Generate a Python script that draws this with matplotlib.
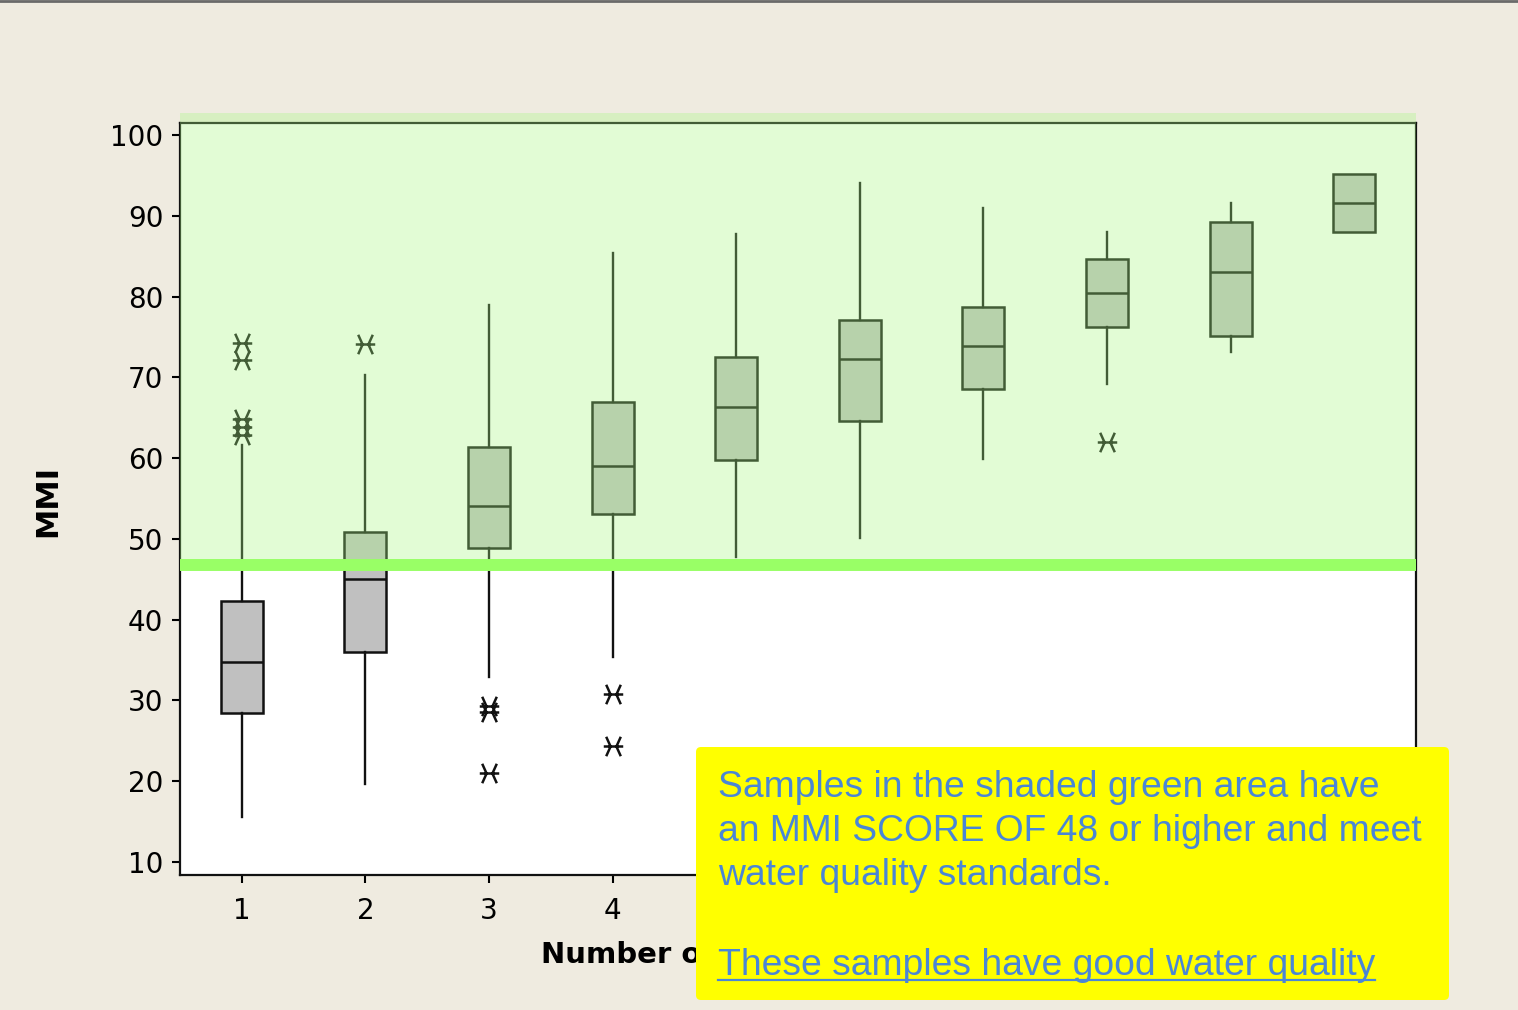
import numpy as np
import matplotlib
matplotlib.use('agg')
import matplotlib.pyplot as plt
from matplotlib.patches import Rectangle, FancyBboxPatch
from matplotlib.path import Path
from matplotlib.lines import Line2D
from matplotlib.transforms import IdentityTransform

# number of taxa groups
groups = [1, 2, 3, 4, 5, 6, 7, 8, 9, 10]
q1 = [28.5, 36.0, 48.9, 53.1, 59.7, 64.6, 68.6, 76.2, 75.1, 88.0]
med = [34.8, 45.0, 54.1, 59.0, 66.3, 72.3, 73.9, 80.4, 83.0, 91.6]
q3 = [42.3, 50.9, 61.4, 67.0, 72.5, 77.1, 78.7, 84.7, 89.2, 95.2]
whislo = [15.6, 19.6, 32.9, 35.4, 47.8, 50.1, 59.9, 69.2, 73.1, 88.0]
whishi = [61.6, 70.3, 79.0, 85.4, 87.7, 94.1, 91.0, 88.0, 91.6, 95.2]
outliers = [
    [74.2, 72.2, 64.8, 63.8, 62.9],
    [74.1],
    [29.3, 28.6, 21.0],
    [30.8, 24.3],
    [], [], [],
    [62.0],
    [], [],
]
threshold = 46.8
yticks = [10, 20, 30, 40, 50, 60, 70, 80, 90, 100]

bg = '#efebe0'
note_color = '#4a86d6'

fig = plt.figure(figsize=(15.18, 10.1), dpi=100, facecolor=bg)
ax = fig.add_axes([0.1186, 0.1337, 0.8142, 0.7446])
ax.set_facecolor('white')

stats = []
for i in range(len(groups)):
    stats.append(dict(med=med[i], q1=q1[i], q3=q3[i], whislo=whislo[i],
                      whishi=whishi[i], fliers=outliers[i]))

# minitab style star: )-( shape
star = Path([(-0.75, 1), (-0.3, 0), (-0.75, -1), (0.75, 1), (0.3, 0), (0.75, -1), (-1, 0), (1, 0)],
            [Path.MOVETO, Path.LINETO, Path.LINETO, Path.MOVETO, Path.LINETO, Path.LINETO,
             Path.MOVETO, Path.LINETO])

ax.bxp(stats, positions=groups, widths=0.34, patch_artist=True, showcaps=False,
       boxprops=dict(facecolor='#c0c0c0', edgecolor='#111111', linewidth=1.8),
       medianprops=dict(color='#111111', linewidth=1.8),
       whiskerprops=dict(color='#111111', linewidth=1.7),
       flierprops=dict(marker=star, markersize=14, markerfacecolor='none',
                       markeredgecolor='#111111', markeredgewidth=1.8))

ax.set_xlim(0.5, 10.5)
ax.set_ylim(8.39, 101.49)
ax.set_yticks(yticks)
ax.set_xticks(groups)
ax.tick_params(direction='out', length=6, width=1.5, labelsize=20, pad=6)
ax.tick_params(axis='x', pad=10)
for s in ax.spines.values():
    s.set_linewidth(1.6)
    s.set_color('#111111')

ax.set_ylabel('MMI', fontsize=22, fontweight='bold')
ax.yaxis.set_label_coords(-0.095, 0.497)
ax.set_xlabel('Number of Intolerant Taxa', fontsize=21, fontweight='bold', ha='left', va='center')
ax.xaxis.set_label_coords(0.292, -0.106)

# translucent green over the passing region
ax.add_patch(Rectangle((0.5, threshold), 10, 102.72 - threshold,
                       facecolor=(167/255, 248/255, 130/255), alpha=0.33,
                       edgecolor='none', zorder=10, clip_on=False))
ax.axhline(threshold, color='#99ff66', linewidth=8.6, zorder=11)

# top border of the slide
fig.add_artist(Line2D([0, 1], [0.999, 0.999], transform=fig.transFigure,
                      color='#6a6a6a', linewidth=2))

# yellow callout
H = 1010
box = FancyBboxPatch((696, H - 1000), 753, 253,
                     boxstyle='round,pad=0,rounding_size=5',
                     facecolor='#ffff00', edgecolor='none',
                     transform=IdentityTransform(), zorder=20)
fig.add_artist(box)

lines = ['Samples in the shaded green area have',
         'an MMI SCORE OF 48 or higher and meet',
         'water quality standards.']
base = [797, 841, 885]
for t, yb in zip(lines, base):
    fig.text(718 / 1518, 1 - yb / H, t, fontsize=26.8, color=note_color,
             family='Liberation Sans', va='baseline', ha='left', zorder=21)

good = fig.text(718 / 1518, 1 - 975 / H, 'These samples have good water quality',
                fontsize=26.8, color=note_color, family='Liberation Sans',
                va='baseline', ha='left', zorder=21)
fig.canvas.draw()
bb = good.get_window_extent()
uy = (1 - 980 / H) * fig.bbox.height
fig.add_artist(Line2D([bb.x0, bb.x1], [uy, uy], transform=IdentityTransform(),
                      color=note_color, linewidth=1.6, zorder=21))

fig.savefig('out.png', dpi=100, facecolor=bg)
